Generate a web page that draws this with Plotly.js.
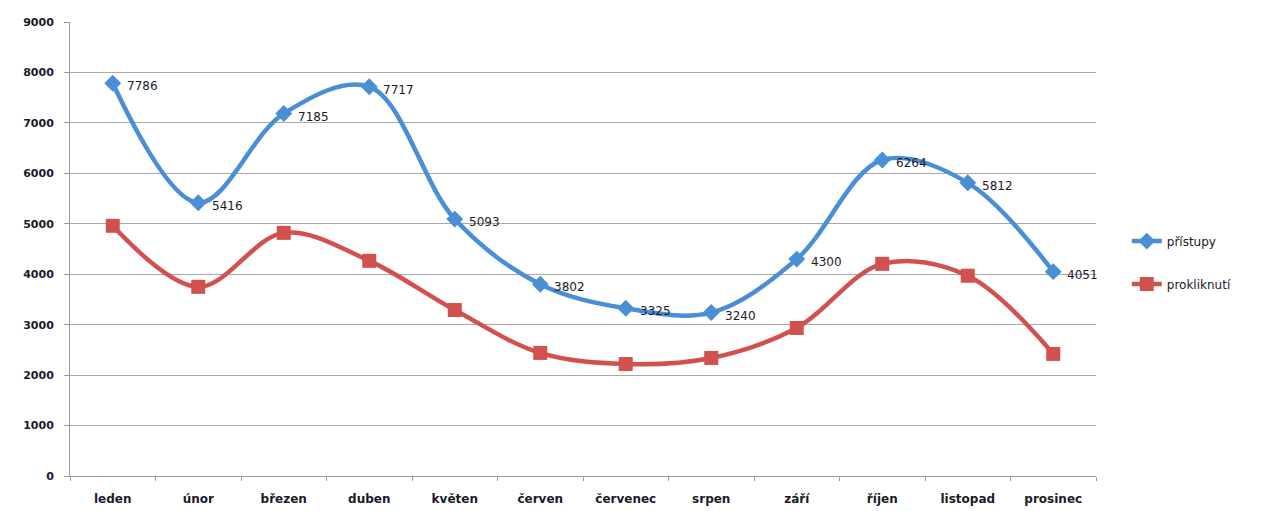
<!DOCTYPE html>
<html>
<head>
<meta charset="utf-8">
<script src="https://cdn.plot.ly/plotly-3.0.1.min.js"></script>
<style>html,body{margin:0;padding:0;background:#fff;}#chart{width:1266px;height:511px;}</style>
</head>
<body>
<div id="chart"></div>
<script>
const months = ["leden","únor","březen","duben","květen","červen","červenec","srpen","září","říjen","listopad","prosinec"];
const pristupy = [7786, 5416, 7185, 7717, 5093, 3802, 3325, 3240, 4300, 6264, 5812, 4051];
const prokliknuti = [4960, 3750, 4820, 4265, 3290, 2440, 2220, 2340, 2935, 4206, 3970, 2420];
const yTicks = [0,1000,2000,3000,4000,5000,6000,7000,8000,9000];

const FONT = "DejaVu Sans, Liberation Sans, sans-serif";

const traces = [
  {
    x: months, y: pristupy, name: "přístupy", type: "scatter", legendgroup: "a",
    mode: "lines+markers",
    line: {color: "#4A8ED6", width: 4.5, shape: "spline", smoothing: 1},
    marker: {symbol: "diamond", size: 13, color: "#4A8ED6"},
    cliponaxis: false
  },
  {
    x: months, y: prokliknuti, name: "prokliknutí", type: "scatter", legendgroup: "b",
    mode: "lines+markers",
    line: {color: "#D2504D", width: 4.5, shape: "spline", smoothing: 1},
    marker: {symbol: "square", size: 14, color: "#D2504D"},
    cliponaxis: false
  }
];

const annotations = months.map((m, i) => ({
  x: m, y: pristupy[i], xref: "x", yref: "y",
  text: String(pristupy[i]), showarrow: false,
  xanchor: "left", yanchor: "middle", xshift: 12, yshift: -3,
  font: {family: FONT, size: 12, color: "#1a1a2a"}
}));

const layout = {
  width: 1266, height: 511,
  margin: {l: 70, r: 170, t: 22, b: 35},
  paper_bgcolor: "#fff", plot_bgcolor: "#fff",
  font: {family: FONT, size: 11, color: "#1a1a2a"},
  showlegend: true,
  legend: {x: 1.03, y: 0.47, xanchor: "left", yanchor: "middle", traceorder: "grouped",
           font: {family: FONT, size: 12, color: "#1a1a2a"}, tracegroupgap: 24},
  annotations: annotations,
  xaxis: {
    type: "category", range: [-0.5, 11.5], showgrid: false, showline: true, linecolor: "#9a9a9a", linewidth: 1,
    ticks: "outside", tickson: "boundaries", ticklen: 4, tickcolor: "#9a9a9a",
    ticklabelstandoff: 12,
    tickfont: {family: FONT, size: 12, weight: "bold"}, zeroline: false, fixedrange: true
  },
  yaxis: {
    range: [0, 9000], tickvals: yTicks, ticktext: yTicks.map(String),
    showgrid: true, gridcolor: "#a8a8a8", gridwidth: 1,
    showline: true, linecolor: "#9a9a9a", linewidth: 1,
    ticks: "outside", ticklen: 5, tickcolor: "#9a9a9a",
    ticklabelstandoff: 8,
    tickfont: {family: FONT, size: 11, weight: "bold"}, zeroline: false, fixedrange: true
  }
};

Plotly.newPlot("chart", traces, layout, {displayModeBar: false, staticPlot: true});
</script>
</body>
</html>
